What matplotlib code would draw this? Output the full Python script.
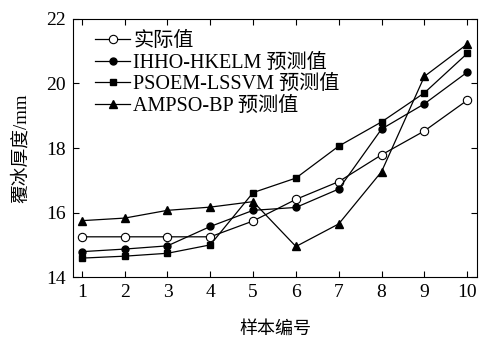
import matplotlib
matplotlib.use('Agg')
import matplotlib.pyplot as plt
import numpy as np

plt.rcParams['font.family'] = ['Liberation Serif', 'Noto Sans CJK SC']

# sample index
samples = np.arange(1, 11)

# ice thickness values (mm)
actual = [15.25, 15.25, 15.25, 15.25, 15.74, 16.41, 16.96, 17.79, 18.53, 19.48]
ihho = [14.79, 14.87, 14.97, 15.57, 16.07, 16.16, 16.73, 18.59, 19.37, 20.35]
psoem = [14.59, 14.65, 14.74, 15.0, 16.62, 17.07, 18.06, 18.81, 19.71, 20.93]
ampso = [15.75, 15.83, 16.07, 16.17, 16.34, 14.95, 15.65, 17.27, 20.22, 21.22]

labels = ['实际值', 'IHHO-HKELM 预测值', 'PSOEM-LSSVM 预测值', 'AMPSO-BP 预测值']

fig = plt.figure(figsize=(4.79, 3.38), dpi=100)
ax = fig.add_axes([0.152, 0.180, 0.844, 0.764])

ax.plot(samples, actual, color='black', lw=0.9, marker='o', ms=6,
        mfc='white', mec='black', mew=0.8, label=labels[0])
ax.plot(samples, ihho, color='black', lw=0.9, marker='o', ms=5,
        mfc='black', mec='black', label=labels[1])
ax.plot(samples, psoem, color='black', lw=0.9, marker='s', ms=4.5,
        mfc='black', mec='black', label=labels[2])
ax.plot(samples, ampso, color='black', lw=0.9, marker='^', ms=6,
        mfc='black', mec='black', label=labels[3])

ax.set_xlim(0.79, 10.23)
ax.set_ylim(14, 22)
ax.set_xticks(samples)
ax.set_yticks([14, 16, 18, 20, 22])
ax.tick_params(direction='in', top=True, right=True, labelsize=14, length=4, width=0.8, pad=5)
for s in ax.spines.values():
    s.set_linewidth(0.8)

ax.set_xlabel('样本编号', fontsize=13, labelpad=14)
ax.set_ylabel('覆冰厚度/mm', fontsize=13.5, labelpad=12)

ax.legend(loc='upper left', frameon=False, fontsize=14.5, handlelength=1.75,
          handletextpad=0.15, labelspacing=0.13, borderaxespad=0.0,
          borderpad=0.0, bbox_to_anchor=(0.055, 0.95))

fig.savefig('out.png', dpi=100)
